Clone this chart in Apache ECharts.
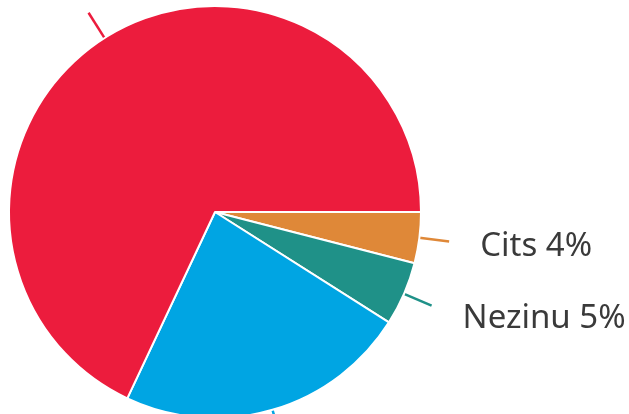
<!DOCTYPE html>
<html>
<head>
<meta charset="utf-8">
<script src="https://cdn.jsdelivr.net/npm/echarts@6/dist/echarts.min.js"></script>
<style>
    html, body { margin: 0; padding: 0; background: #fff; }
    #chart { width: 629px; height: 414px; }
</style>
</head>
<body>
<div id="chart"></div>
<script>
    // order follows the picture, clockwise from 3 o'clock
    const categories = ['Cits', 'Nezinu', 'Nē', 'Jā'];
    const values = [4, 5, 23, 68];
    const colors = ['#DF8838', '#1F9188', '#00A5E3', '#EC1C3D'];
    const shownLabels = [true, true, false, false];
    const labelShiftY = [5, 13, 0, 0];

    const chart = echarts.init(document.getElementById('chart'));

    const pieData = categories.map(function (name, i) {
        const item = {
            name: name,
            value: values[i],
            itemStyle: { color: colors[i] },
            labelLine: { lineStyle: { color: colors[i] } }
        };
        if (!shownLabels[i]) {
            item.label = { color: 'rgba(0,0,0,0)' };
        }
        return item;
    });

    chart.setOption({
        animation: false,
        series: [{
            type: 'pie',
            center: [215, 212],
            radius: [0, 206],
            startAngle: 0,
            clockwise: true,
            avoidLabelOverlap: false,
            itemStyle: {
                borderColor: '#fff',
                borderWidth: 2
            },
            label: {
                show: true,
                position: 'outside',
                formatter: '{b} {c}%',
                fontFamily: 'Noto Sans',
                fontSize: 33,
                color: '#3a3a3a',
                distanceToLabelLine: 31
            },
            labelLine: {
                show: true,
                length: 30,
                length2: 0,
                lineStyle: { width: 2.5 }
            },
            labelLayout: function (params) {
                return { dy: labelShiftY[params.dataIndex] };
            },
            data: pieData
        }]
    });
</script>
</body>
</html>
